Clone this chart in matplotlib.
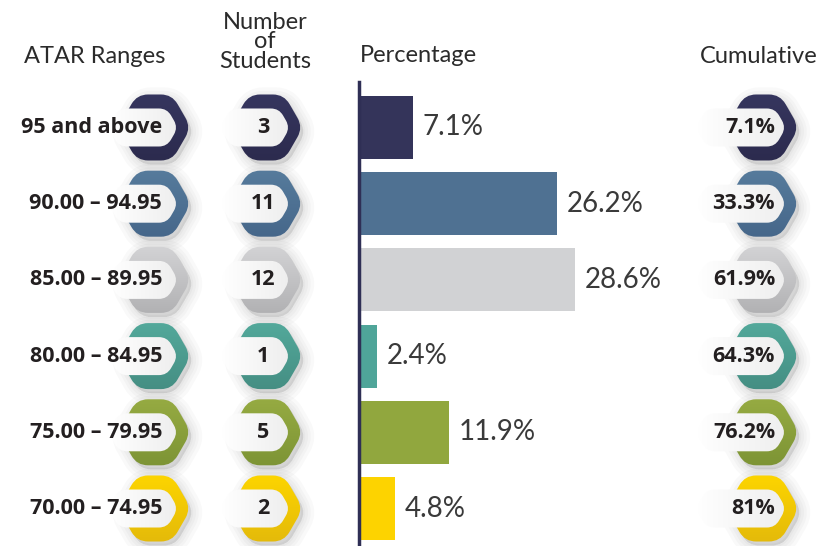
import numpy as np
import matplotlib
matplotlib.use('Agg')
import matplotlib.pyplot as plt
from matplotlib.path import Path
from matplotlib.patches import PathPatch
from matplotlib.colors import to_rgb

# data
ranges = ['95 and above', '90.00 – 94.95', '85.00 – 89.95', '80.00 – 84.95', '75.00 – 79.95', '70.00 – 74.95']
students = [3, 11, 12, 1, 5, 2]
percentages = [7.1, 26.2, 28.6, 2.4, 11.9, 4.8]
cumulative = ['7.1%', '33.3%', '61.9%', '64.3%', '76.2%', '81%']

bar_colors = ['#34345a', '#4f7192', '#d1d2d4', '#4fa599', '#91a73e', '#fdd300']
badge_top = ['#36365f', '#567b9c', '#d3d3d5', '#53a99b', '#96ab42', '#fdd500']
badge_bottom = ['#2c2b4e', '#46678a', '#b1b1b3', '#458e83', '#7d9435', '#e4ba0a']

W, H = 822, 546
fig = plt.figure(figsize=(W / 100, H / 100), dpi=100)

# overlay axes in pixel coordinates for headers and badges
ov = fig.add_axes([0, 0, 1, 1])
ov.set_xlim(0, W)
ov.set_ylim(H, 0)
ov.axis('off')

# bar axes
px_per_pct = 7.56
x0_px = 359
top_px = 82
ax = fig.add_axes([x0_px / W, 0, (W - x0_px) / W, (H - top_px) / H])
ax.patch.set_alpha(0)
ax.set_xlim(0, (W - x0_px) / px_per_pct)
ax.set_ylim(5.492, -0.597)
for s in ['top', 'right', 'bottom']:
    ax.spines[s].set_visible(False)
ax.spines['left'].set_color('#2f2f55')
ax.spines['left'].set_linewidth(2.5)
ax.spines['left'].set_zorder(5)
ax.set_xticks([])
ax.set_yticks([])

rows = np.arange(len(percentages))
ax.barh(rows, percentages, height=0.827, color=bar_colors, zorder=2)
for i, p in enumerate(percentages):
    ax.annotate(f'{p}%', (p, i), xytext=(7, 0), textcoords='offset points',
                va='center', ha='left', fontsize=20, family='Lato', weight='normal',
                color='#3a3a3a')


def rounded_path(pts, r):
    verts, codes = [], []
    n = len(pts)
    for i in range(n):
        p0 = np.array(pts[i - 1], float)
        p1 = np.array(pts[i], float)
        p2 = np.array(pts[(i + 1) % n], float)
        d1 = p0 - p1
        d2 = p2 - p1
        l1, l2 = np.linalg.norm(d1), np.linalg.norm(d2)
        rr = min(r, l1 / 2, l2 / 2)
        a = p1 + d1 / l1 * rr
        b = p1 + d2 / l2 * rr
        verts.append(a)
        codes.append(Path.MOVETO if i == 0 else Path.LINETO)
        verts += [p1, b]
        codes += [Path.CURVE3, Path.CURVE3]
    verts.append(verts[0])
    codes.append(Path.CLOSEPOLY)
    return Path(verts, codes)


def hexagon(xl, xr, cy, h, s):
    return [(xl, cy), (xl + s, cy - h / 2), (xr - s, cy - h / 2),
            (xr, cy), (xr - s, cy + h / 2), (xl + s, cy + h / 2)]


def gradient_fill(path, extent, c1, c2, horizontal=False, z=3):
    c1, c2 = np.array(to_rgb(c1)), np.array(to_rgb(c2))
    t = np.linspace(0, 1, 64)
    if horizontal:
        img = (c1[None, :] * (1 - t[:, None]) + c2[None, :] * t[:, None])[None, :, :]
    else:
        img = (c1[None, :] * (1 - t[:, None]) + c2[None, :] * t[:, None])[:, None, :]
    patch = PathPatch(path, facecolor='none', edgecolor='none', zorder=z)
    ov.add_patch(patch)
    im = ov.imshow(img, extent=extent, aspect='auto', origin='upper',
                   interpolation='bilinear', zorder=z)
    im.set_clip_path(patch)


def shadow(path, dx, dy, z, strength=0.022):
    shifted = Path(path.vertices + np.array([dx, dy]), path.codes)
    for lw in [16, 11, 7, 3]:
        ov.add_patch(PathPatch(shifted, facecolor=(0, 0, 0, strength),
                               edgecolor=(0, 0, 0, strength), linewidth=lw,
                               joinstyle='round', zorder=z))


def badge(xr, cy, i, pill_len=80):
    hx = hexagon(xr - 73, xr, cy, 66, 19)
    hp = rounded_path(hx, 11)
    shadow(hp, 3, 4, 1)
    gradient_fill(hp, [xr - 75, xr + 1, cy + 34, cy - 34], badge_top[i], badge_bottom[i], z=3)
    pr = xr - 13
    pl = pr - pill_len
    pill = rounded_path(hexagon(pl, pr, cy, 38, 11), 8)
    gradient_fill(pill, [pl, pr, cy + 20, cy - 20], '#ffffff', '#eeeeee', horizontal=True, z=4)


label_kw = dict(fontsize=15.5, family='Open Sans', weight='bold', color='#231f20',
                va='center', zorder=6)
for i in rows:
    cy = H - ax.transData.transform((0, i))[1]
    badge(191, cy, i, pill_len=70)
    badge(303, cy, i, pill_len=70)
    badge(799, cy, i, pill_len=90)
    ov.text(162, cy, ranges[i], ha='right', **label_kw)
    ov.text(263, cy, str(students[i]), ha='center', **label_kw)
    ov.text(775, cy, cumulative[i], ha='right', **label_kw)

ov.set_xlim(0, W)
ov.set_ylim(H, 0)

# headers
head_kw = dict(fontsize=17, family='Lato', weight='normal', color='#2b2b2b', va='baseline')
ov.text(95, 63, 'ATAR Ranges', ha='center', **head_kw)
ov.text(265, 68, 'Number\nof\nStudents', ha='center', linespacing=0.92, **head_kw)
ov.text(360, 62, 'Percentage', ha='left', **head_kw)
ov.text(759, 63, 'Cumulative', ha='center', **head_kw)

fig.savefig('out.png', dpi=100)
